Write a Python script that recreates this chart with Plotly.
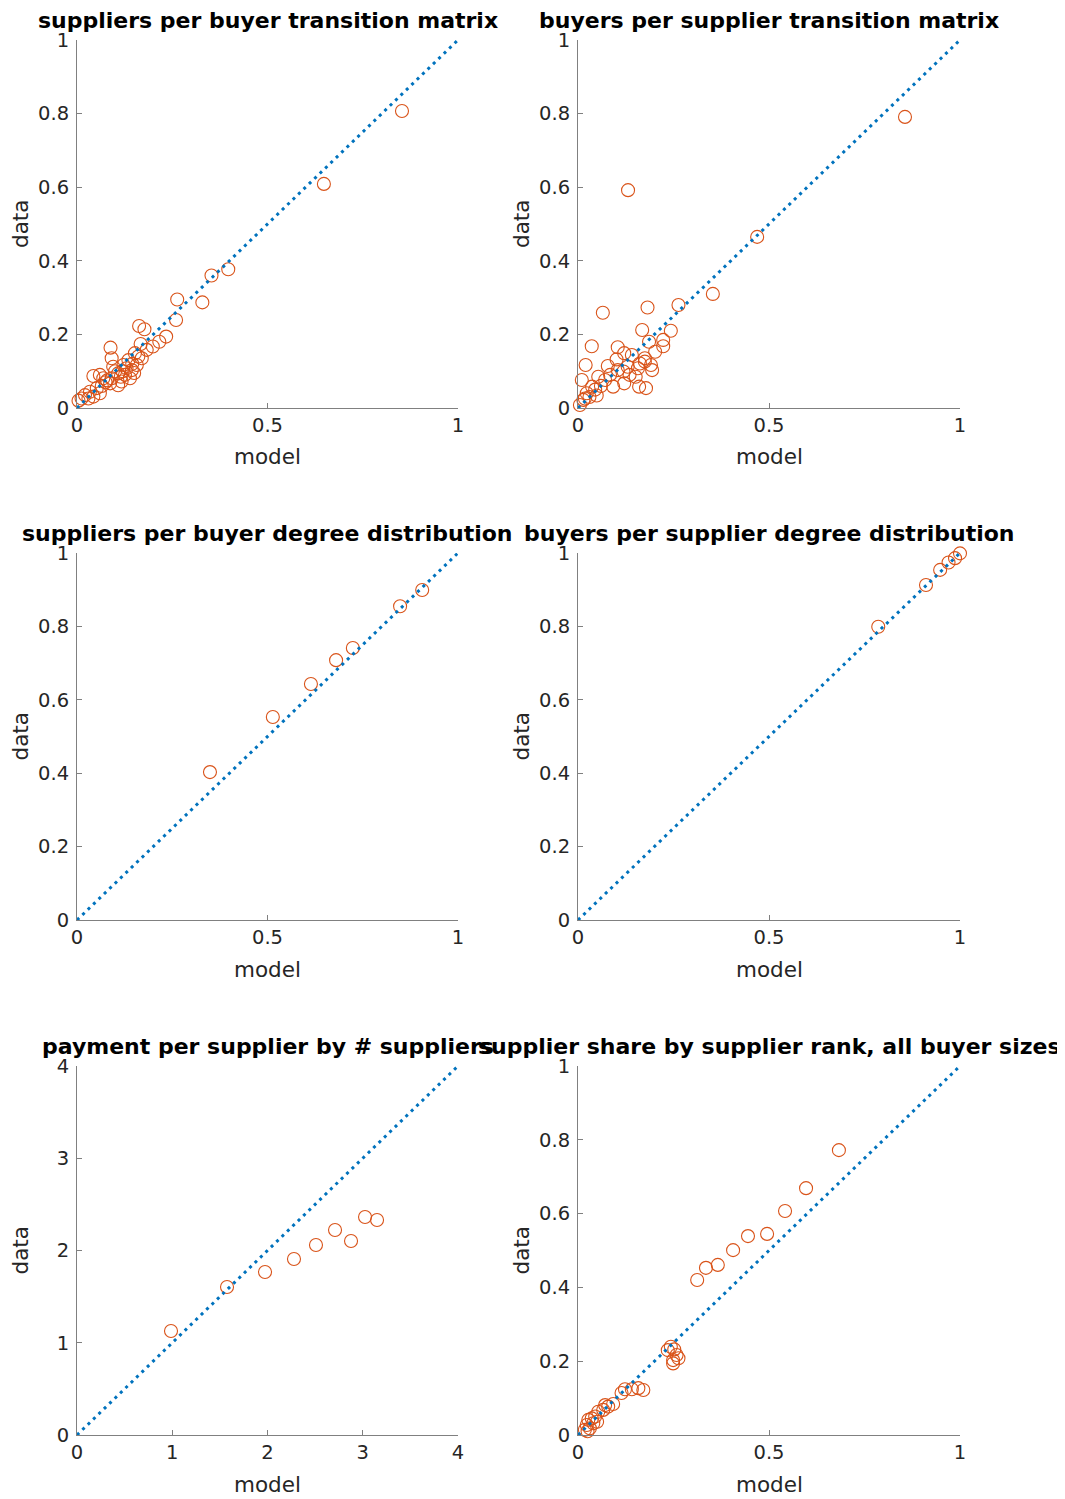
import plotly.graph_objects as go

# ---------------- data ----------------
titles = [
    "suppliers per buyer transition matrix",
    "buyers per supplier transition matrix",
    "suppliers per buyer degree distribution",
    "buyers per supplier degree distribution",
    "payment per supplier by # suppliers",
    "supplier share by supplier rank, all buyer sizes",
]

x1 = [0.853, 0.648, 0.397, 0.353, 0.263, 0.329, 0.260, 0.163, 0.177, 0.234, 0.216, 0.167, 0.199, 0.088,
      0.183, 0.152, 0.091, 0.135, 0.170, 0.122, 0.095, 0.157, 0.144, 0.108, 0.060, 0.043, 0.126, 0.091,
      0.117, 0.087, 0.069, 0.139, 0.108, 0.052, 0.034, 0.021, 0.012, 0.004, 0.043, 0.060, 0.030, 0.079,
      0.130, 0.161, 0.100, 0.115, 0.145, 0.075, 0.065, 0.120, 0.150]
y1 = [0.807, 0.609, 0.377, 0.360, 0.295, 0.287, 0.239, 0.223, 0.214, 0.194, 0.180, 0.174, 0.167, 0.164,
      0.158, 0.149, 0.135, 0.130, 0.135, 0.117, 0.112, 0.117, 0.103, 0.094, 0.090, 0.087, 0.090, 0.081,
      0.072, 0.067, 0.081, 0.081, 0.062, 0.054, 0.044, 0.035, 0.026, 0.020, 0.031, 0.040, 0.026, 0.075,
      0.108, 0.140, 0.100, 0.085, 0.120, 0.070, 0.060, 0.100, 0.095]

x2 = [0.856, 0.131, 0.469, 0.353, 0.263, 0.182, 0.065, 0.168, 0.243, 0.186, 0.223, 0.036, 0.104, 0.223,
      0.121, 0.202, 0.141, 0.101, 0.175, 0.020, 0.078, 0.130, 0.162, 0.191, 0.104, 0.157, 0.194, 0.010,
      0.053, 0.084, 0.119, 0.151, 0.092, 0.121, 0.160, 0.178, 0.037, 0.049, 0.023, 0.014, 0.005, 0.018,
      0.071, 0.175, 0.135, 0.030, 0.045, 0.060]
y2 = [0.791, 0.592, 0.465, 0.310, 0.280, 0.273, 0.259, 0.212, 0.210, 0.180, 0.185, 0.168, 0.165, 0.168,
      0.149, 0.153, 0.144, 0.132, 0.135, 0.117, 0.114, 0.112, 0.121, 0.117, 0.103, 0.108, 0.103, 0.076,
      0.085, 0.090, 0.099, 0.085, 0.058, 0.067, 0.058, 0.054, 0.058, 0.034, 0.040, 0.022, 0.008, 0.026,
      0.076, 0.126, 0.090, 0.030, 0.050, 0.060]

x3 = [0.349, 0.514, 0.614, 0.680, 0.724, 0.848, 0.906]
y3 = [0.403, 0.553, 0.643, 0.708, 0.741, 0.855, 0.899]

x4 = [0.786, 0.911, 0.948, 0.970, 0.987, 1.000]
y4 = [0.799, 0.913, 0.954, 0.974, 0.986, 0.999]

x5 = [0.987, 1.575, 1.974, 2.278, 2.509, 2.709, 2.877, 3.024, 3.150]
y5 = [1.127, 1.604, 1.767, 1.908, 2.060, 2.222, 2.103, 2.363, 2.330]

x6 = [0.683, 0.597, 0.542, 0.495, 0.445, 0.406, 0.366, 0.335, 0.312, 0.243, 0.252, 0.235, 0.258, 0.249,
      0.263, 0.249, 0.123, 0.141, 0.158, 0.171, 0.114, 0.092, 0.079, 0.071, 0.066, 0.053, 0.045, 0.036,
      0.027, 0.023, 0.031, 0.018, 0.040, 0.050, 0.025]
y6 = [0.772, 0.669, 0.607, 0.545, 0.539, 0.501, 0.461, 0.453, 0.420, 0.239, 0.232, 0.230, 0.217, 0.203,
      0.208, 0.194, 0.124, 0.124, 0.127, 0.122, 0.114, 0.084, 0.077, 0.081, 0.068, 0.063, 0.050, 0.045,
      0.041, 0.027, 0.018, 0.014, 0.032, 0.036, 0.010]

xs = [x1, x2, x3, x4, x5, x6]
ys = [y1, y2, y3, y4, y5, y6]
axis_max = [1, 1, 1, 1, 4, 1]
x_ticks_unit = [0, 0.5, 1]
x_ticktext_unit = ["0", "0.5", "1"]
y_ticks_unit = [0, 0.2, 0.4, 0.6, 0.8, 1]
y_ticktext_unit = ["0", "0.2", "0.4", "0.6", "0.8", "1"]
ticks_four = [0, 1, 2, 3, 4]

# ---------------- layout geometry ----------------
OFF = 8  # page body margin in the browser
W, H = 1065 - OFF, 1499 - OFF
col_px = [(77, 458), (578, 960)]
row_px = [(40, 408), (553, 920), (1066, 1435)]
FONT = "DejaVu Sans"
TXT = "#262626"
AX = "#808080"
ORANGE = "#D95319"
BLUE = "#0072BD"


def px_x(p):
    return (p - OFF) / W


def px_y(p):
    return 1 - (p - OFF) / H


fig = go.Figure()
layout = dict(
    width=W, height=H,
    margin=dict(l=0, r=0, t=0, b=0, autoexpand=False),
    paper_bgcolor="white", plot_bgcolor="white",
    showlegend=False,
    font=dict(family=FONT, color=TXT),
)
annotations = []

for i in range(6):
    r, c = divmod(i, 2)
    n = "" if i == 0 else str(i + 1)
    xa, ya = "x" + n, "y" + n
    m = axis_max[i]
    x0p, x1p = col_px[c]
    t0p, b0p = row_px[r]
    if m == 4:
        xt, yt = ticks_four, ticks_four
        xtt = [str(v) for v in ticks_four]
        ytt = xtt
    else:
        xt, yt = x_ticks_unit, y_ticks_unit
        xtt, ytt = x_ticktext_unit, y_ticktext_unit

    common = dict(range=[0, m], showgrid=False, zeroline=False, showline=True, automargin=False,
                  linecolor=AX, linewidth=1, ticks="inside", ticklen=5, tickcolor=AX,
                  tickfont=dict(family=FONT, size=19.5, color=TXT), fixedrange=True)
    layout["xaxis" + n] = dict(common, domain=[px_x(x0p), px_x(x1p)], anchor=ya,
                               tickvals=xt, ticktext=xtt)
    layout["yaxis" + n] = dict(common, domain=[px_y(b0p), px_y(t0p)], anchor=xa,
                               tickvals=yt, ticktext=ytt, ticklabelstandoff=3)

    fig.add_trace(go.Scatter(
        x=xs[i], y=ys[i], mode="markers", xaxis=xa, yaxis=ya, cliponaxis=False,
        marker=dict(symbol="circle-open", size=13, color=ORANGE, line=dict(width=1.1, color=ORANGE)),
    ))
    fig.add_trace(go.Scatter(
        x=[0, m], y=[0, m], mode="lines", xaxis=xa, yaxis=ya, cliponaxis=False,
        line=dict(color=BLUE, width=3, dash="3px,4.5px"),
    ))

    cx = px_x((x0p + x1p) / 2)
    annotations.append(dict(text="<b>%s</b>" % titles[i], x=cx, y=px_y(t0p - 20),
                            xref="paper", yref="paper", xanchor="center", yanchor="middle",
                            showarrow=False, font=dict(family=FONT, size=22, color="black")))
    annotations.append(dict(text="model", x=cx, y=px_y(b0p + 49),
                            xref="paper", yref="paper", xanchor="center", yanchor="middle",
                            showarrow=False, font=dict(family=FONT, size=21.5, color=TXT)))
    annotations.append(dict(text="data", x=px_x(x0p - 57), y=px_y((t0p + b0p) / 2),
                            xref="paper", yref="paper", xanchor="center", yanchor="middle",
                            textangle=-90, showarrow=False, font=dict(family=FONT, size=21.5, color=TXT)))

layout["annotations"] = annotations
fig.update_layout(**layout)
fig.write_html("out.html")
